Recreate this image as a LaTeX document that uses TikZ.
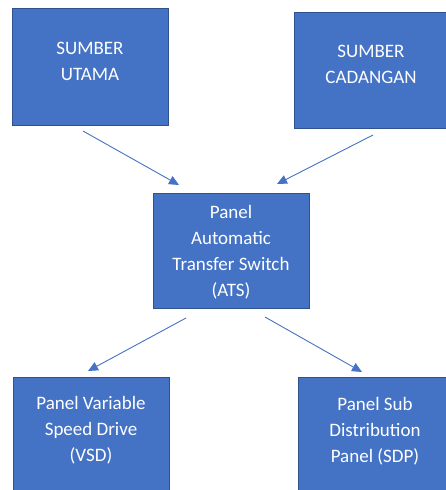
\documentclass[tikz,border=0pt]{standalone}
\usepackage{fontspec}
\setmainfont{Carlito}
\usetikzlibrary{arrows.meta}

\definecolor{boxblue}{HTML}{4472C4}
\definecolor{edgeblue}{HTML}{2F528F}

\begin{document}
\begin{tikzpicture}[x=1pt, y=-1pt,
  panel/.style={draw=edgeblue, fill=boxblue, line width=0.8pt, inner sep=0pt},
  caption/.style={text=white, align=center, inner sep=0pt, font=\fontsize{19}{26}\selectfont},
  flow/.style={draw=boxblue, line width=0.9pt, -{Triangle[length=10pt, width=9pt]}}]
  \useasboundingbox (0,0) rectangle (446,490);
  \clip (0,0) rectangle (446,490);
  % boxes
  \node[panel, minimum width=156pt, minimum height=117pt] (utama) at (90,66.5) {};
  \node[panel, minimum width=154pt, minimum height=116pt] (cadangan) at (371,70) {};
  \node[panel, minimum width=156pt, minimum height=115pt] (ats) at (231,250.5) {};
  \node[panel, minimum width=156pt, minimum height=130pt] (vsd) at (91,442) {};
  \node[panel, minimum width=154pt, minimum height=130pt] (sdp) at (375,442) {};
  % texts
  \node[caption] (utamatext) at (90,61) {SUMBER\\UTAMA};
  \node[caption] (cadangantext) at (371,64.5) {SUMBER\\CADANGAN};
  \node[caption] (atstext) at (231,252) {Panel\\Automatic\\Transfer Switch\\(ATS)};
  \node[caption] (vsdtext) at (91,430) {Panel Variable\\Speed Drive\\(VSD)};
  \node[caption] (sdptext) at (375,431) {Panel Sub\\Distribution\\Panel (SDP)};
  % arrow ends
  \coordinate (utamaout) at (83,131);
  \coordinate (cadanganout) at (373,135);
  \coordinate (atsinleft) at (179,185);
  \coordinate (atsinright) at (277,184);
  \coordinate (atsoutleft) at (186,318);
  \coordinate (atsoutright) at (265,317);
  \coordinate (vsdin) at (88,371);
  \coordinate (sdpin) at (362,372);
  \draw[flow] (utamaout) -- (atsinleft);
  \draw[flow] (cadanganout) -- (atsinright);
  \draw[flow] (atsoutleft) -- (vsdin);
  \draw[flow] (atsoutright) -- (sdpin);
\end{tikzpicture}
\end{document}
